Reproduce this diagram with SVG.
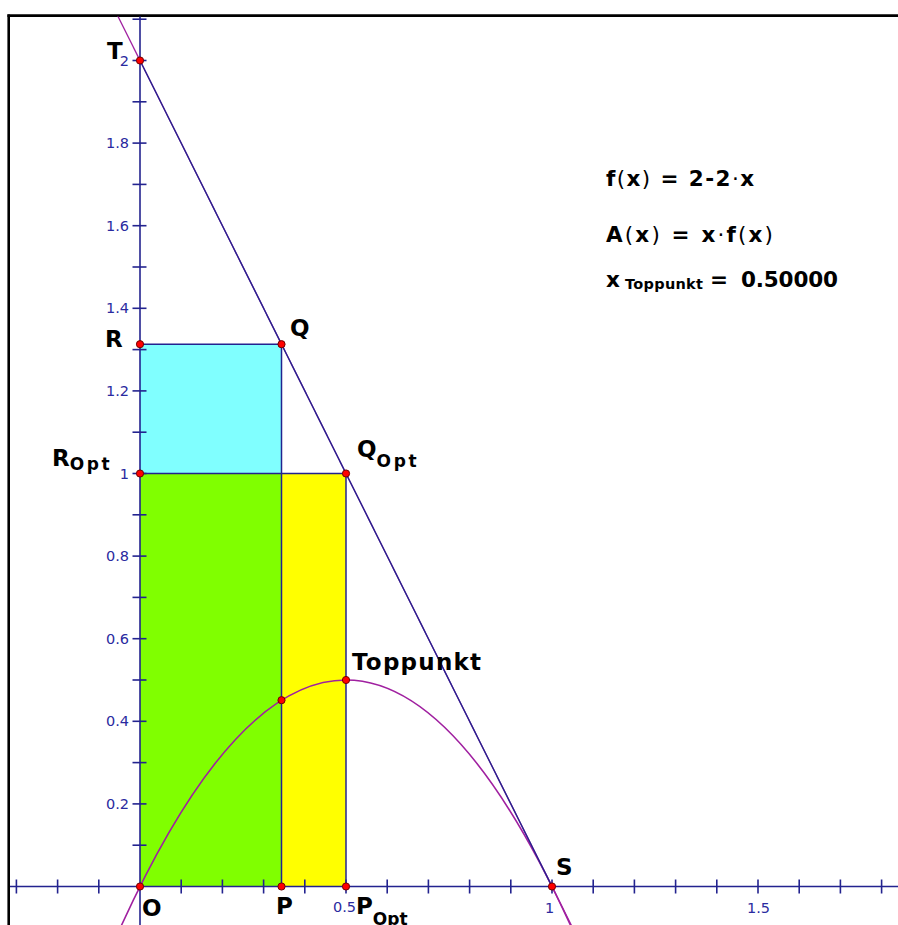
<svg xmlns="http://www.w3.org/2000/svg" width="898" height="925" viewBox="0 0 898 925">
<style>
.ax{stroke:#23238f;stroke-width:1.6;fill:none}
.tk{stroke:#23238f;stroke-width:1.6}
.tl{font-family:"DejaVu Sans","Liberation Sans",sans-serif;font-size:14.5px;fill:#2a2aa0}
.lb{font-family:"DejaVu Sans","Liberation Sans",sans-serif;font-size:23px;font-weight:bold;fill:#000}
.sb{font-size:17px}
.fm{font-family:"DejaVu Sans","Liberation Sans",sans-serif;font-size:21.5px;font-weight:bold;fill:#000}
.np{font-weight:normal}
.pt{fill:#ff0000;stroke:#700000;stroke-width:1}
.edge{stroke:#23238f;stroke-width:1.5;fill:none}
</style>
<defs>
<clipPath id="area"><rect x="10" y="16.5" width="888" height="909"/></clipPath>
</defs>
<rect x="0" y="0" width="898" height="925" fill="#ffffff"/>
<g id="frame" stroke="#000" stroke-width="2.6" fill="none">
<line x1="8.7" y1="14.4" x2="8.7" y2="925"/>
<line x1="7.4" y1="15.6" x2="898" y2="15.6"/>
</g>
<g id="fills">
<rect x="140" y="344.2" width="141.5" height="129.3" fill="#80ffff"/>
<rect x="281.5" y="473.5" width="64.5" height="413" fill="#ffff00"/>
<rect x="140" y="473.5" width="141.5" height="413" fill="#80ff00"/>
</g>
<g id="axes">
<line class="ax" x1="10" y1="886.5" x2="898" y2="886.5"/>
<line class="ax" x1="140" y1="16.5" x2="140" y2="925"/>
<g id="xticks" class="tk">
<line x1="16.4" y1="879.5" x2="16.4" y2="893.5"/>
<line x1="57.6" y1="879.5" x2="57.6" y2="893.5"/>
<line x1="98.8" y1="879.5" x2="98.8" y2="893.5"/>
<line x1="181.2" y1="879.5" x2="181.2" y2="893.5"/>
<line x1="222.4" y1="879.5" x2="222.4" y2="893.5"/>
<line x1="263.6" y1="879.5" x2="263.6" y2="893.5"/>
<line x1="304.8" y1="879.5" x2="304.8" y2="893.5"/>
<line x1="346" y1="879.5" x2="346" y2="893.5"/>
<line x1="387.2" y1="879.5" x2="387.2" y2="893.5"/>
<line x1="428.4" y1="879.5" x2="428.4" y2="893.5"/>
<line x1="469.6" y1="879.5" x2="469.6" y2="893.5"/>
<line x1="510.8" y1="879.5" x2="510.8" y2="893.5"/>
<line x1="552" y1="879.5" x2="552" y2="893.5"/>
<line x1="593.2" y1="879.5" x2="593.2" y2="893.5"/>
<line x1="634.4" y1="879.5" x2="634.4" y2="893.5"/>
<line x1="675.6" y1="879.5" x2="675.6" y2="893.5"/>
<line x1="716.8" y1="879.5" x2="716.8" y2="893.5"/>
<line x1="758" y1="879.5" x2="758" y2="893.5"/>
<line x1="799.2" y1="879.5" x2="799.2" y2="893.5"/>
<line x1="840.4" y1="879.5" x2="840.4" y2="893.5"/>
<line x1="881.6" y1="879.5" x2="881.6" y2="893.5"/>
</g>
<g id="yticks" class="tk">
<line x1="132.5" y1="845.2" x2="146.5" y2="845.2"/>
<line x1="132.5" y1="803.9" x2="146.5" y2="803.9"/>
<line x1="132.5" y1="762.6" x2="146.5" y2="762.6"/>
<line x1="132.5" y1="721.3" x2="146.5" y2="721.3"/>
<line x1="132.5" y1="680" x2="146.5" y2="680"/>
<line x1="132.5" y1="638.7" x2="146.5" y2="638.7"/>
<line x1="132.5" y1="597.4" x2="146.5" y2="597.4"/>
<line x1="132.5" y1="556.1" x2="146.5" y2="556.1"/>
<line x1="132.5" y1="514.8" x2="146.5" y2="514.8"/>
<line x1="132.5" y1="473.5" x2="146.5" y2="473.5"/>
<line x1="132.5" y1="432.2" x2="146.5" y2="432.2"/>
<line x1="132.5" y1="390.9" x2="146.5" y2="390.9"/>
<line x1="132.5" y1="349.6" x2="146.5" y2="349.6"/>
<line x1="132.5" y1="308.3" x2="146.5" y2="308.3"/>
<line x1="132.5" y1="267" x2="146.5" y2="267"/>
<line x1="132.5" y1="225.7" x2="146.5" y2="225.7"/>
<line x1="132.5" y1="184.4" x2="146.5" y2="184.4"/>
<line x1="132.5" y1="143.1" x2="146.5" y2="143.1"/>
<line x1="132.5" y1="101.8" x2="146.5" y2="101.8"/>
<line x1="132.5" y1="60.5" x2="146.5" y2="60.5"/>
<line x1="132.5" y1="19.2" x2="146.5" y2="19.2"/>
</g>
<g id="ticklabels" class="tl">
<text x="129" y="65.5" text-anchor="end">2</text>
<text x="129" y="148.1" text-anchor="end">1.8</text>
<text x="129" y="230.7" text-anchor="end">1.6</text>
<text x="129" y="313.3" text-anchor="end">1.4</text>
<text x="129" y="395.9" text-anchor="end">1.2</text>
<text x="129" y="478.5" text-anchor="end">1</text>
<text x="129" y="561.1" text-anchor="end">0.8</text>
<text x="129" y="643.7" text-anchor="end">0.6</text>
<text x="129" y="726.3" text-anchor="end">0.4</text>
<text x="129" y="808.9" text-anchor="end">0.2</text>
<text x="356" y="911.5" text-anchor="end">0.5</text>
<text x="549.5" y="912.5" text-anchor="middle">1</text>
<text x="758.5" y="912.5" text-anchor="middle">1.5</text>
</g>
</g>
<g id="connectors" clip-path="url(#area)">
<line id="graph-f" x1="117.3" y1="15" x2="572" y2="926.6" stroke="#a020a0" stroke-width="1.3"/>
<path id="graph-A" d="M119.4,929.9 Q346,430.1 572.6,929.9" stroke="#a020a0" stroke-width="1.6" fill="none"/>
<line id="seg-TS" x1="140" y1="60.5" x2="552" y2="886.5" stroke="#23238f" stroke-width="1.3"/>
<line id="seg-RQ" class="edge" x1="140" y1="344.2" x2="281.5" y2="344.2"/>
<line id="seg-QP" class="edge" x1="281.5" y1="344.2" x2="281.5" y2="886.5"/>
<line id="seg-RoptQopt" class="edge" x1="140" y1="473.5" x2="346" y2="473.5"/>
<line id="seg-QoptPopt" class="edge" x1="346" y1="473.5" x2="346" y2="886.5"/>
</g>
<g id="node-T"><circle class="pt" cx="140" cy="60.5" r="3.6"/><text class="lb" x="107" y="59">T</text></g>
<g id="node-R"><circle class="pt" cx="140" cy="344.2" r="3.6"/><text class="lb" x="105" y="347">R</text></g>
<g id="node-Q"><circle class="pt" cx="281.5" cy="344.2" r="3.6"/><text class="lb" x="290" y="336">Q</text></g>
<g id="node-Ropt"><circle class="pt" cx="140" cy="473.5" r="3.6"/><text class="lb" x="52" y="466">R<tspan class="sb" dy="4" textLength="40" lengthAdjust="spacing">Opt</tspan></text></g>
<g id="node-Qopt"><circle class="pt" cx="346" cy="473.5" r="3.6"/><text class="lb" x="357" y="457">Q<tspan class="sb" dy="10" textLength="40" lengthAdjust="spacing">Opt</tspan></text></g>
<g id="node-Toppunkt"><circle class="pt" cx="346" cy="680" r="3.6"/><text class="lb" x="352" y="670" textLength="129" lengthAdjust="spacing">Toppunkt</text></g>
<g id="node-A"><circle class="pt" cx="281.5" cy="700.2" r="3.6"/></g>
<g id="node-O"><circle class="pt" cx="140" cy="886.5" r="3.6"/><text class="lb" x="142" y="916">O</text></g>
<g id="node-P"><circle class="pt" cx="281.5" cy="886.5" r="3.6"/><text class="lb" x="276" y="914">P</text></g>
<g id="node-Popt"><circle class="pt" cx="346" cy="886.5" r="3.6"/><text class="lb" x="356" y="914">P<tspan class="sb" dy="11">Opt</tspan></text></g>
<g id="node-S"><circle class="pt" cx="552" cy="886.5" r="3.6"/><text class="lb" x="556" y="875">S</text></g>
<g id="formulas">
<text class="fm" x="606" y="186" textLength="148" lengthAdjust="spacing">f<tspan class="np">(</tspan>x<tspan class="np">)</tspan> = 2-2<tspan class="np">·</tspan>x</text>
<text class="fm" x="606" y="241.5" textLength="167" lengthAdjust="spacing">A<tspan class="np">(</tspan>x<tspan class="np">)</tspan> = x<tspan class="np">·</tspan>f<tspan class="np">(</tspan>x<tspan class="np">)</tspan></text>
<text class="fm" x="606" y="287">x</text>
<text class="fm" x="625" y="289" style="font-size:14.5px" textLength="78" lengthAdjust="spacing">Toppunkt</text>
<text class="fm" x="710" y="287">=</text>
<text class="fm" x="741" y="287" textLength="97" lengthAdjust="spacing">0.50000</text>
</g>
</svg>
